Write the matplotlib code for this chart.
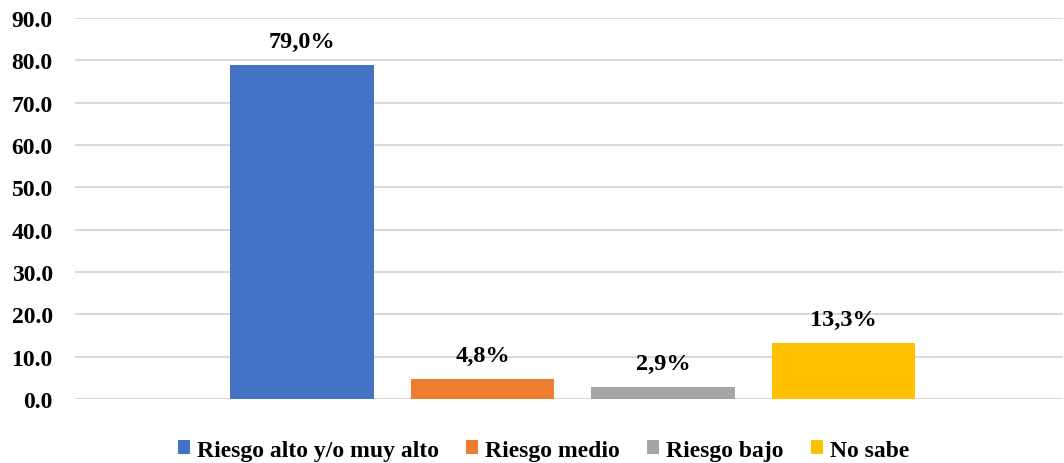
import matplotlib
matplotlib.use("Agg")
import matplotlib.pyplot as plt
from matplotlib.patches import Patch

categories = ["Riesgo alto y/o muy alto", "Riesgo medio", "Riesgo bajo", "No sabe"]
values = [79.0, 4.8, 2.9, 13.3]
labels = ["79,0%", "4,8%", "2,9%", "13,3%"]
colors = ["#4472C4", "#ED7D31", "#A5A5A5", "#FFC000"]
yticks = [0, 10, 20, 30, 40, 50, 60, 70, 80, 90]

plt.rcParams['font.family'] = ['Liberation Serif', 'DejaVu Serif']
plt.rcParams['font.weight'] = 'bold'

fig = plt.figure(figsize=(10.64, 4.64), dpi=100)
ax = fig.add_axes([0.0705, 0.138, 0.929, 0.821])

x = list(range(len(categories)))
ax.bar(x, values, width=0.795, color=colors, zorder=3)
for xi, v, lab in zip(x, values, labels):
    ax.annotate(lab, (xi, v), xytext=(0, 9), textcoords='offset points',
                ha='center', va='bottom', fontsize=17.5, fontweight='bold')

ax.set_xlim(-1.258, 4.22)
ax.set_ylim(0, 90)
ax.set_yticks(yticks)
ax.set_yticklabels([f"{t:.1f}" for t in yticks], fontsize=17, fontweight='bold')
ax.set_xticks([])
ax.grid(axis='y', color='#D9D9D9', linewidth=1.5, zorder=0)
ax.tick_params(axis='y', length=0, pad=16)
for s in ax.spines.values():
    s.set_visible(False)

handles = [Patch(facecolor=c, label=l) for c, l in zip(colors, categories)]
fig.legend(handles=handles, loc='center', bbox_to_anchor=(0.511, 0.028), ncol=4,
           frameon=False, handlelength=0.5, handleheight=0.5,
           handletextpad=0.3, columnspacing=1.15, prop={'weight': 'bold', 'size': 17})

fig.savefig("out.png", dpi=100)
